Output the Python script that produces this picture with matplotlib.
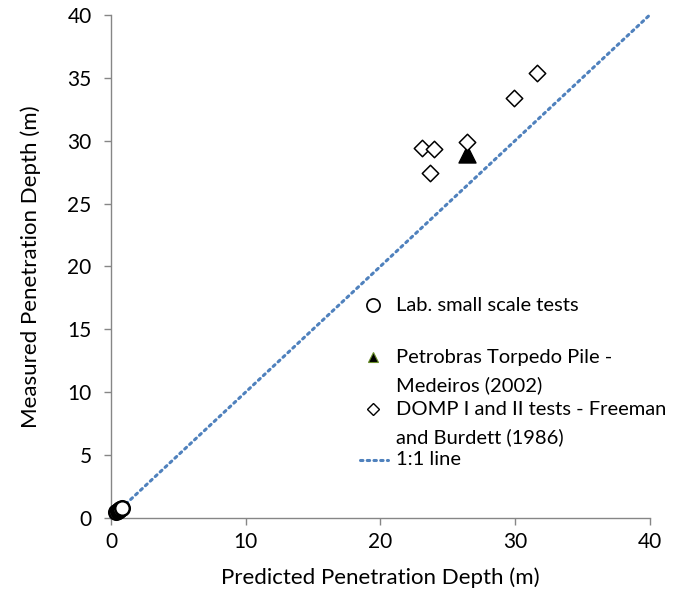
import matplotlib.pyplot as plt
from matplotlib.lines import Line2D

plt.rcParams['font.family'] = ['Lato', 'DejaVu Sans']

# lab tests (clustered near the origin)
lab_pred = [0.4, 0.5, 0.6, 0.7, 0.8]
lab_meas = [0.45, 0.55, 0.6, 0.7, 0.75]

# Petrobras torpedo pile
petro_pred = [26.4]
petro_meas = [28.95]

# DOMP I and II
domp_pred = [31.6, 29.9, 23.1, 24.0, 26.4, 23.7]
domp_meas = [35.4, 33.4, 29.4, 29.3, 29.9, 27.4]

one_to_one = [0, 40]

fig = plt.figure(figsize=(6.81, 6.0), dpi=100)
ax = fig.add_axes([0.163, 0.137, 0.791, 0.838])

blue = '#4F81BD'
grey = '#868686'

ax.plot(one_to_one, one_to_one, linestyle=(0, (0.8, 1.4)), color=blue, lw=2.2,
        dash_capstyle='round', zorder=1, clip_on=False)
ax.scatter(lab_pred, lab_meas, s=110, facecolor='white', edgecolor='black',
           linewidth=1.8, zorder=3, clip_on=False)
ax.scatter(petro_pred, petro_meas, s=150, marker='^', color='black', zorder=3)
ax.scatter(domp_pred, domp_meas, s=70, marker='D', facecolor='white',
           edgecolor='black', linewidth=1.1, zorder=3)

ax.set_xlim(0, 40)
ax.set_ylim(0, 40)
ax.set_xticks([0, 10, 20, 30, 40])
ax.set_yticks(range(0, 41, 5))
for s in ['top', 'right']:
    ax.spines[s].set_visible(False)
for s in ['left', 'bottom']:
    ax.spines[s].set_color(grey)
    ax.spines[s].set_linewidth(1)
ax.tick_params(colors=grey, labelcolor='black', labelsize=15, length=5, width=1)
ax.tick_params(axis='y', pad=9)
ax.tick_params(axis='x', pad=5)
ax.set_xlabel('Predicted Penetration Depth (m)', fontsize=16, labelpad=11)
ax.set_ylabel('Measured Penetration Depth (m)', fontsize=16, labelpad=19)

# hand-built legend, markers sit on the first line of each entry
W, H = 681.0, 600.0
def fx(px):
    return px / W
def fy(py):
    return 1 - py / H

entries = [
    (305, 'Lab. small scale tests'),
    (357, 'Petrobras Torpedo Pile -\nMedeiros (2002)'),
    (409, 'DOMP I and II tests - Freeman\nand Burdett (1986)'),
    (459, '1:1 line'),
]
for py, txt in entries:
    # offset so the first text line centres on py
    fig.text(fx(396), fy(py - 8), txt, fontsize=14.5, va='top', ha='left',
             linespacing=1.68)

fig.add_artist(Line2D([fx(373)], [fy(305)], marker='o', ms=9.5, mfc='white',
                      mec='black', mew=1.2, transform=fig.transFigure))
fig.add_artist(Line2D([fx(373)], [fy(357)], marker='^', ms=7, mfc='black',
                      mec='#6a8f2a', mew=0.8, transform=fig.transFigure))
fig.add_artist(Line2D([fx(373)], [fy(409)], marker='D', ms=6, mfc='white',
                      mec='black', mew=1.0, transform=fig.transFigure))
fig.add_artist(Line2D([fx(360), fx(388)], [fy(460), fy(460)], color=blue,
                      lw=2.2, linestyle=(0, (0.8, 1.4)), dash_capstyle='round',
                      transform=fig.transFigure))

fig.savefig('out.png', dpi=100)
